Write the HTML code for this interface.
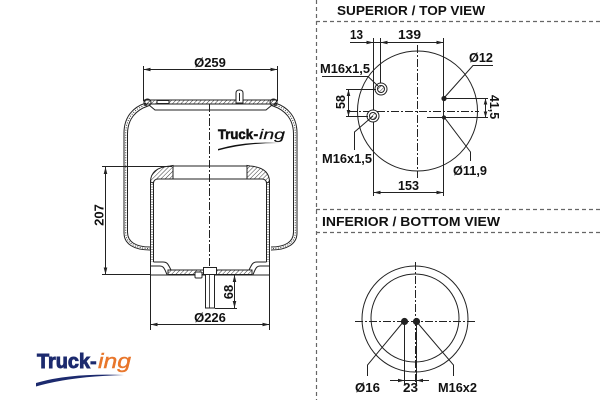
<!DOCTYPE html>
<html><head><meta charset="utf-8"><style>
html,body{margin:0;padding:0;background:#fff;}
svg{display:block;}
text{font-family:"Liberation Sans",Arial,sans-serif;font-weight:bold;fill:#111;}
</style></head><body>
<svg width="600" height="400" viewBox="0 0 600 400" xmlns="http://www.w3.org/2000/svg">
<defs>
<pattern id="h" width="3" height="3" patternUnits="userSpaceOnUse" patternTransform="rotate(45)">
<line x1="0" y1="0" x2="0" y2="3" stroke="#222" stroke-width="0.9"/>
</pattern>
</defs>
<rect width="600" height="400" fill="#fff"/>

<!-- dashed separators -->
<g stroke="#666" stroke-width="1.2" stroke-dasharray="4 3" fill="none">
<line x1="316.5" y1="0" x2="316.5" y2="400"/>
<line x1="316" y1="21.5" x2="600" y2="21.5"/>
<line x1="316" y1="209.5" x2="600" y2="209.5"/>
<line x1="316" y1="232.5" x2="600" y2="232.5"/>
</g>

<!-- ========== LEFT DRAWING ========== -->
<g fill="none" stroke="#222" stroke-width="1">
<line x1="143.5" y1="69.5" x2="277.5" y2="69.5"/>
<line x1="143.5" y1="66" x2="143.5" y2="101"/>
<line x1="277.5" y1="66" x2="277.5" y2="101"/>
<rect x="144" y="100" width="133" height="4" fill="url(#h)"/>
<circle cx="147.5" cy="102.5" r="3.5" fill="url(#h)"/>
<circle cx="273.5" cy="102.5" r="3.5" fill="url(#h)"/>
<path d="M149,105 L155,110 L266,110 L272,105"/>
<rect x="157" y="100.5" width="12" height="3" fill="#fff"/>
<path d="M236,103 L236,93 Q236,90 239.5,90 Q243,90 243,93 L243,103 Z" fill="#fff"/>
<line x1="239.5" y1="93" x2="239.5" y2="101"/>
<path d="M146,103 C133,107 124,117 124,133 L124,233 C124,244 134,250 150,250"/>
<path d="M148,106 C136,110 127.5,119 127.5,134 L127.5,232 C127.5,242 136,247 150,247"/>
<path d="M147,104.5 C134.5,108.5 125.75,118 125.75,133.5 L125.75,232.5 C125.75,243 135,248.5 150,248.5" stroke-dasharray="1 1.5" stroke-width="0.9"/>
<path d="M275,103 C288,107 297,117 297,133 L297,233 C297,244 287,250 271,250"/>
<path d="M273,106 C285,110 293.5,119 293.5,134 L293.5,232 C293.5,242 285,247 271,247"/>
<path d="M274,104.5 C286.5,108.5 295.25,118 295.25,133.5 L295.25,232.5 C295.25,243 286,248.5 271,248.5" stroke-dasharray="1 1.5" stroke-width="0.9"/>
<line x1="150.5" y1="180" x2="150.5" y2="330"/>
<line x1="153.5" y1="182" x2="153.5" y2="262"/>
<line x1="152" y1="184" x2="152" y2="262" stroke-dasharray="1 1.5" stroke-width="0.9"/>
<line x1="269.5" y1="180" x2="269.5" y2="330"/>
<line x1="266.5" y1="182" x2="266.5" y2="262"/>
<line x1="268" y1="184" x2="268" y2="262" stroke-dasharray="1 1.5" stroke-width="0.9"/>
<path d="M150.5,182 C150.5,172 157,167 170,166 L173,165.5 L173,179 L158,179 C155,179 153.5,181 153.5,183 Z" fill="url(#h)"/>
<path d="M269.5,182 C269.5,172 263,167 250,166 L247,165.5 L247,179 L262,179 C265,179 266.5,181 266.5,183 Z" fill="url(#h)"/>
<line x1="173" y1="166" x2="247" y2="166"/>
<line x1="173" y1="179" x2="247" y2="179"/>
<path d="M153.5,262 L163,262 C167,262 168,264 170,268 L171,270 L249,270 L250,268 C252,264 253,262 257,262 L266.5,262"/>
<path d="M150.5,266 L160,266 C163,266 164,268 165,270 L167,274.5"/>
<path d="M269.5,266 L260,266 C257,266 256,268 255,270 L253,274.5"/>
<rect x="168" y="270" width="84" height="4.5" fill="url(#h)"/>
<line x1="150.5" y1="275" x2="269.5" y2="275"/>
<rect x="203.5" y="267.5" width="13" height="7" fill="#fff"/>
<rect x="205.5" y="274.5" width="9" height="33.5" fill="#fff"/>
<rect x="195" y="272" width="7" height="6" rx="1" fill="#fff"/>
<line x1="209.5" y1="104" x2="209.5" y2="268" stroke-dasharray="8 2 2 2"/>
<line x1="209.5" y1="275" x2="209.5" y2="308" stroke-width="0.8"/>
<line x1="105.5" y1="167" x2="105.5" y2="274.5"/>
<line x1="102" y1="166.5" x2="172" y2="166.5"/>
<line x1="102" y1="274.5" x2="150" y2="274.5"/>
<line x1="234.5" y1="275" x2="234.5" y2="308"/>
<line x1="215" y1="308.5" x2="237" y2="308.5"/>
<line x1="150.5" y1="324.5" x2="269.5" y2="324.5"/>
</g>
<g fill="#222">
<polygon points="143.5,69.5 150.5,67.7 150.5,71.3"/>
<polygon points="277.5,69.5 270.5,67.7 270.5,71.3"/>
<polygon points="105.5,167 103.7,174 107.3,174"/>
<polygon points="105.5,274.5 103.7,267.5 107.3,267.5"/>
<polygon points="234.5,275 232.7,282 236.3,282"/>
<polygon points="234.5,308 232.7,301 236.3,301"/>
<polygon points="150.5,324.5 157.5,322.7 157.5,326.3"/>
<polygon points="269.5,324.5 262.5,322.7 262.5,326.3"/>
</g>
<text x="210" y="67" font-size="13" text-anchor="middle">Ø259</text>
<text transform="translate(103.5,215) rotate(-90)" font-size="13" text-anchor="middle">207</text>
<text transform="translate(233,292) rotate(-90)" font-size="13" text-anchor="middle">68</text>
<text x="210" y="322" font-size="13" text-anchor="middle">Ø226</text>

<!-- mid logo -->
<text x="218" y="139" font-size="14" textLength="35" lengthAdjust="spacingAndGlyphs" style="fill:#111;stroke:#111;stroke-width:0.6">Truck</text>
<text x="253.5" y="139" font-size="14" style="fill:#111;stroke:#111;stroke-width:0.5">-</text>
<text x="259" y="139" font-size="14" font-style="italic" textLength="26" lengthAdjust="spacingAndGlyphs" style="fill:#111;font-weight:normal;stroke:#111;stroke-width:0.2">ing</text>
<path d="M218,149 Q245,141 278,143 Q245,143 218,150.5 Z" fill="#111"/>

<!-- bottom logo -->
<text x="37" y="368" font-size="20" textLength="53" lengthAdjust="spacingAndGlyphs" style="fill:#1c2a6e;stroke:#1c2a6e;stroke-width:0.9">Truck</text>
<text x="90" y="368" font-size="20" style="fill:#1c2a6e;stroke:#1c2a6e;stroke-width:0.7">-</text>
<text x="98" y="368" font-size="20" font-style="italic" textLength="33" lengthAdjust="spacingAndGlyphs" style="fill:#e8762b;font-weight:normal;stroke:#e8762b;stroke-width:0.4">ing</text>
<path d="M36,383 Q70,373 124,375 Q70,376.5 36,386.5 Z" fill="#1c2a6e"/>

<!-- ========== TOP VIEW ========== -->
<text x="337" y="15" font-size="13" textLength="148" lengthAdjust="spacingAndGlyphs">SUPERIOR / TOP VIEW</text>
<g fill="none" stroke="#222" stroke-width="1">
<circle cx="417.5" cy="111" r="60"/>
<line x1="417.5" y1="45" x2="417.5" y2="178" stroke-dasharray="8 2 2 2"/>
<line x1="349" y1="111.5" x2="479" y2="111.5" stroke-dasharray="8 2 2 2"/>
<line x1="350" y1="42.5" x2="443.5" y2="42.5"/>
<line x1="373.5" y1="38" x2="373.5" y2="196"/>
<line x1="380.5" y1="38" x2="380.5" y2="84"/>
<line x1="443.5" y1="38" x2="443.5" y2="196"/>
<line x1="373.5" y1="192.5" x2="443.5" y2="192.5"/>
<circle cx="381" cy="89" r="6" fill="#fff"/>
<circle cx="381" cy="89" r="3.5" fill="url(#h)"/>
<circle cx="373" cy="116" r="6" fill="#fff"/>
<circle cx="373" cy="116" r="3.5" fill="url(#h)"/>
<line x1="348.5" y1="89.5" x2="348.5" y2="116.5"/>
<line x1="346" y1="89.5" x2="376" y2="89.5"/>
<line x1="346" y1="116.5" x2="368" y2="116.5"/>
<line x1="485.5" y1="98" x2="485.5" y2="117"/>
<line x1="444" y1="98.5" x2="488" y2="98.5"/>
<line x1="427" y1="117.5" x2="488" y2="117.5"/>
<polyline points="322,76.5 368,76.5 378,86"/>
<polyline points="373,116 354.5,132 354.5,150"/>
<polyline points="444,98 473,65.5 493,65.5"/>
<polyline points="444,117 470.5,152 470.5,161"/>
</g>
<g fill="#222">
<circle cx="444" cy="98.5" r="2.6"/>
<circle cx="444" cy="117.5" r="2.1"/>
<polygon points="373.5,42.5 366.5,40.7 366.5,44.3"/>
<polygon points="380.5,42.5 387.5,40.7 387.5,44.3"/>
<polygon points="443.5,42.5 436.5,40.7 436.5,44.3"/>
<polygon points="373.5,192.5 380.5,190.7 380.5,194.3"/>
<polygon points="443.5,192.5 436.5,190.7 436.5,194.3"/>
<polygon points="348.5,89.5 346.7,96 350.3,96"/>
<polygon points="348.5,116.5 346.7,110 350.3,110"/>
<polygon points="485.5,98.5 483.7,104.5 487.3,104.5"/>
<polygon points="485.5,117.5 483.7,111.5 487.3,111.5"/>
</g>
<text x="350" y="39" font-size="12.5" textLength="13" lengthAdjust="spacingAndGlyphs">13</text>
<text x="398" y="39" font-size="12.5" textLength="23" lengthAdjust="spacingAndGlyphs">139</text>
<text x="320" y="73" font-size="12.5" textLength="50" lengthAdjust="spacingAndGlyphs">M16x1,5</text>
<text transform="translate(345,102) rotate(-90)" font-size="12.5" text-anchor="middle">58</text>
<text x="469" y="62" font-size="12.5" textLength="24" lengthAdjust="spacingAndGlyphs">Ø12</text>
<text transform="translate(490,107) rotate(90)" font-size="12.5" text-anchor="middle">41,5</text>
<text x="322" y="163" font-size="12.5" textLength="50" lengthAdjust="spacingAndGlyphs">M16x1,5</text>
<text x="453" y="175" font-size="12.5" textLength="34" lengthAdjust="spacingAndGlyphs">Ø11,9</text>
<text x="398" y="190" font-size="12.5" textLength="21" lengthAdjust="spacingAndGlyphs">153</text>

<!-- ========== BOTTOM VIEW ========== -->
<text x="322" y="226" font-size="13" textLength="178" lengthAdjust="spacingAndGlyphs">INFERIOR / BOTTOM VIEW</text>
<g fill="none" stroke="#222" stroke-width="1">
<circle cx="415" cy="319" r="53"/>
<circle cx="415" cy="318" r="44"/>
<line x1="415.5" y1="262" x2="415.5" y2="383" stroke-dasharray="8 2 2 2"/>
<line x1="355" y1="321.5" x2="476" y2="321.5" stroke-dasharray="8 2 2 2"/>
<line x1="404.5" y1="321" x2="404.5" y2="384"/>
<line x1="416.5" y1="321" x2="416.5" y2="384"/>
<line x1="390" y1="380.5" x2="429" y2="380.5"/>
<polyline points="404,321 367.5,365 367.5,376"/>
<polyline points="416,321 453.5,365 453.5,376"/>
</g>
<g fill="#222">
<circle cx="404.5" cy="321.5" r="3.6"/>
<circle cx="416.5" cy="321.5" r="3.6"/>
<polygon points="404.5,380.5 398,378.7 398,382.3"/>
<polygon points="416.5,380.5 423,378.7 423,382.3"/>
</g>
<text x="355" y="392" font-size="12.5" textLength="25" lengthAdjust="spacingAndGlyphs">Ø16</text>
<text x="403" y="392" font-size="12.5" textLength="15" lengthAdjust="spacingAndGlyphs">23</text>
<text x="438" y="392" font-size="12.5" textLength="39" lengthAdjust="spacingAndGlyphs">M16x2</text>
</svg>
</body></html>
